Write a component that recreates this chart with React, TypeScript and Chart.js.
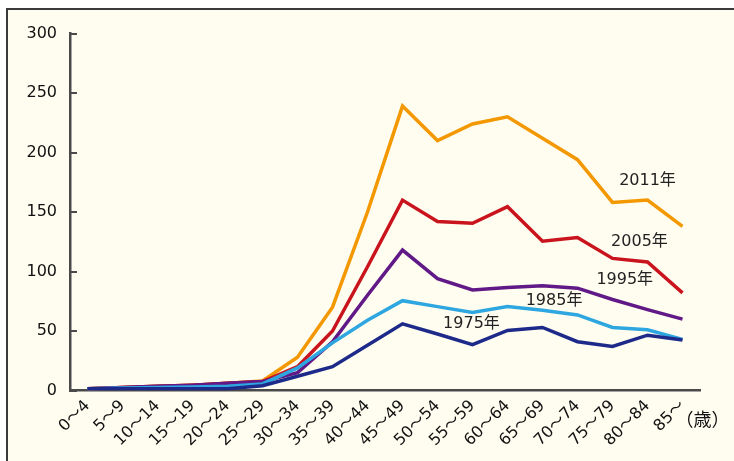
import React, { useEffect, useRef } from 'react';
import { Chart, registerables } from 'chart.js';

Chart.register(...registerables);

// ---- data ----
const ageGroups = [
  '0～4', '5～9', '10～14', '15～19', '20～24', '25～29', '30～34', '35～39', '40～44',
  '45～49', '50～54', '55～59', '60～64', '65～69', '70～74', '75～79', '80～84', '85～',
];
const rate1975 = [1.5, 1.5, 1.5, 1.5, 1.5, 4, 12, 20, 38, 56, 47.5, 38.5, 50.5, 53, 41, 37, 46.5, 42.5];
const rate1985 = [1.5, 2, 2.5, 3, 3.5, 5.5, 19, 40, 59, 75.5, 70.5, 65.5, 70.5, 67.5, 63.5, 53, 51, 43];
const rate1995 = [1.5, 2.5, 3.5, 4.5, 6, 7.5, 15, 41, 80, 118, 94, 84.5, 86.5, 88, 86, 76.5, 68, 60];
const rate2005 = [1.5, 2.5, 3.5, 4.5, 6, 7.5, 20, 50, 104, 160, 142, 140.5, 154.5, 125.5, 128.5, 111, 108, 82];
const rate2011 = [1.5, 2.5, 3.5, 4.5, 6, 8, 28, 70, 150, 239, 210, 224, 230, 212, 194, 158, 160, 138];
const yTickValues = [0, 50, 100, 150, 200, 250, 300];
const seriesNames = ['1975年', '1985年', '1995年', '2005年', '2011年'];
const seriesColors = ['#1d2a8a', '#2ea7e0', '#601986', '#c9141e', '#f39800'];
// label anchor: category index (fractional) and value
const labelIndex = [10.97, 13.33, 15.35, 15.77, 16.0];
const labelValue = [56, 75.5, 93, 125, 176.5];
const unitLabel = '（歳）';

const FONT_FAMILY = '"DejaVu Sans", "Noto Sans CJK JP", sans-serif';

const annotationPlugin = {
  id: 'annotations',
  afterDraw(chart: any) {
    const { ctx, scales } = chart;
    const x = scales.x;
    const y = scales.y;
    ctx.save();
    ctx.fillStyle = '#222';
    ctx.font = `16px ${FONT_FAMILY}`;
    ctx.textAlign = 'center';
    ctx.textBaseline = 'middle';
    seriesNames.forEach((name, i) => {
      ctx.fillText(name, x.getPixelForValue(labelIndex[i]), y.getPixelForValue(labelValue[i]));
    });
    ctx.font = `18px ${FONT_FAMILY}`;
    ctx.textAlign = 'left';
    ctx.fillStyle = '#111';
    const lastX = x.getPixelForValue(ageGroups.length - 1);
    ctx.fillText(unitLabel, lastX - 7, x.top + 31);
    ctx.restore();
  },
};

export default function App() {
  const canvasRef = useRef<HTMLCanvasElement>(null);

  useEffect(() => {
    document.body.style.margin = '0';
    const seriesData = [rate1975, rate1985, rate1995, rate2005, rate2011];
    const chart = new Chart(canvasRef.current as HTMLCanvasElement, {
      type: 'line',
      data: {
        labels: ageGroups,
        datasets: seriesData.map((d, i) => ({
          label: seriesNames[i],
          data: d,
          borderColor: seriesColors[i],
          backgroundColor: seriesColors[i],
          borderWidth: 3.5,
          pointRadius: 0,
          tension: 0,
          fill: false,
        })),
      },
      options: {
        animation: false,
        responsive: false,
        maintainAspectRatio: false,
        layout: { padding: { top: 33.5, right: 34, left: 0, bottom: 0 } },
        plugins: { legend: { display: false }, tooltip: { enabled: false } },
        scales: {
          x: {
            offset: true,
            grid: { display: false, drawTicks: false, drawOnChartArea: false },
            border: { display: true, color: '#4a4a4a', width: 2.5 },
            ticks: {
              autoSkip: false,
              maxRotation: 45,
              minRotation: 45,
              padding: 6,
              color: '#111',
              font: { family: FONT_FAMILY, size: 16 },
            },
            afterFit: (s: any) => {
              s.height = 70.5;
            },
          },
          y: {
            min: 0,
            max: 300,
            afterBuildTicks: (s: any) => {
              s.ticks = yTickValues.map((v) => ({ value: v }));
            },
            grid: {
              display: true,
              drawOnChartArea: false,
              drawTicks: true,
              tickLength: -7,
              color: '#4a4a4a',
              lineWidth: 2,
            },
            border: { display: true, color: '#4a4a4a', width: 2.5 },
            ticks: {
              padding: 20,
              color: '#111',
              font: { family: FONT_FAMILY, size: 16 },
            },
            afterFit: (s: any) => {
              s.width = 70;
            },
          },
        },
      },
      plugins: [annotationPlugin],
    });
    return () => chart.destroy();
  }, []);

  return (
    <div style={{ position: 'relative', width: 734, height: 461, overflow: 'hidden', background: '#fff' }}>
      <div
        style={{
          position: 'absolute',
          left: 6,
          top: 8,
          width: 800,
          height: 500,
          borderTop: '2px solid #3a3a3a',
          borderLeft: '2px solid #3a3a3a',
          background: '#fffdf0',
        }}
      />
      <canvas
        ref={canvasRef}
        width={734}
        height={461}
        style={{ position: 'absolute', left: 0, top: 0, display: 'block' }}
      />
    </div>
  );
}
